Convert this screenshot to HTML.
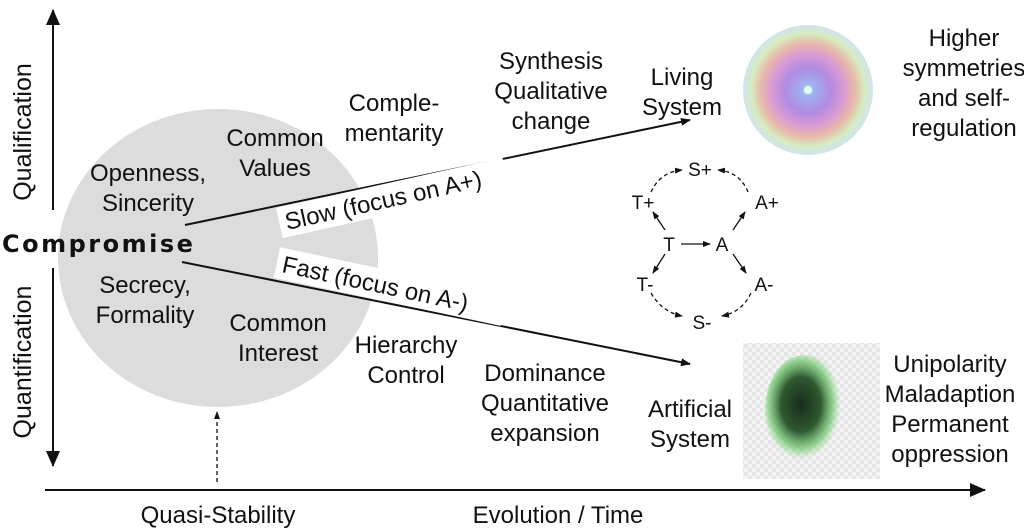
<!DOCTYPE html>
<html><head><meta charset="utf-8"><style>
html,body{margin:0;padding:0;background:#fff;}
svg{display:block;}
text{font-family:"Liberation Sans",sans-serif;fill:#111;}
</style></head><body>
<svg width="1024" height="530" viewBox="0 0 1024 530" xmlns="http://www.w3.org/2000/svg">
<defs>
<marker id="ah" markerWidth="10" markerHeight="8" refX="9" refY="4" orient="auto" markerUnits="userSpaceOnUse"><path d="M0,0 L10,4 L0,8 z" fill="#111"/></marker>
<marker id="sh" markerWidth="8" markerHeight="6" refX="7" refY="3" orient="auto" markerUnits="userSpaceOnUse"><path d="M0,0 L8,3 L0,6 z" fill="#111"/></marker>
<marker id="big" markerWidth="16" markerHeight="14" refX="15" refY="7" orient="auto" markerUnits="userSpaceOnUse"><path d="M0,0 L16,7 L0,14 z" fill="#111"/></marker>
<radialGradient id="rg" cx="0.5" cy="0.5" r="0.5">
<stop offset="0" stop-color="#bff5e0"/><stop offset="0.1" stop-color="#9fb0f0"/>
<stop offset="0.35" stop-color="#b08be0"/><stop offset="0.55" stop-color="#d99ad6"/>
<stop offset="0.72" stop-color="#e8b8a8"/><stop offset="0.87" stop-color="#d6ecc0"/>
<stop offset="1" stop-color="#d0e4f0"/></radialGradient>
<pattern id="chk" width="8" height="8" patternUnits="userSpaceOnUse"><rect width="8" height="8" fill="#f4f4f4"/><rect width="4" height="4" fill="#e6e6e6"/><rect x="4" y="4" width="4" height="4" fill="#e6e6e6"/></pattern>
<radialGradient id="bl" cx="0.45" cy="0.45" r="0.5"><stop offset="0" stop-color="#1a2a1a"/><stop offset="0.5" stop-color="#2e5a30"/><stop offset="0.8" stop-color="#6bc46a" stop-opacity="0.7"/><stop offset="1" stop-color="#8fe08a" stop-opacity="0"/></radialGradient>
</defs>

<ellipse cx="218" cy="258" rx="160" ry="149" fill="#dcdcdc"/>

<line x1="53" y1="210" x2="53" y2="10" stroke="#111" stroke-width="2" marker-end="url(#big)"/>
<line x1="53" y1="268" x2="53" y2="466" stroke="#111" stroke-width="2" marker-end="url(#big)"/>
<line x1="45" y1="490" x2="985" y2="490" stroke="#111" stroke-width="2" marker-end="url(#big)"/>
<line x1="217" y1="482" x2="217" y2="412" stroke="#111" stroke-width="1.3" stroke-dasharray="4,3" marker-end="url(#sh)"/>

<text transform="translate(31,132) rotate(-90)" font-size="25" text-anchor="middle">Qualification</text>
<text transform="translate(31,362) rotate(-90)" font-size="25" text-anchor="middle">Quantification</text>

<text x="2" y="252" font-size="24" font-weight="bold" letter-spacing="2.5" font-family="DejaVu Sans, sans-serif" style="font-family:'DejaVu Sans',sans-serif">Compromise</text>

<line x1="185" y1="225" x2="690" y2="120" stroke="#111" stroke-width="2" marker-end="url(#ah)"/>
<line x1="182" y1="262" x2="690" y2="364" stroke="#111" stroke-width="2" marker-end="url(#ah)"/>
<g transform="translate(287,230) rotate(-12.5)"><rect x="-6" y="-24" width="232" height="31" fill="#fff"/><text x="0" y="0" font-size="24">Slow (focus on A+)</text></g>
<g transform="translate(281,272) rotate(12)"><rect x="-6" y="-24" width="232" height="31" fill="#fff"/><text x="0" y="0" font-size="24">Fast (focus on A-)</text></g>

<g font-size="24" text-anchor="middle">
<text x="148" y="181">Openness,</text><text x="148" y="211">Sincerity</text>
<text x="275" y="146">Common</text><text x="275" y="176">Values</text>
<text x="394" y="111">Comple-</text><text x="394" y="141">mentarity</text>
<text x="551" y="69">Synthesis</text><text x="551" y="99">Qualitative</text><text x="551" y="129">change</text>
<text x="682" y="85">Living</text><text x="682" y="115">System</text>
<text x="964" y="46">Higher</text><text x="964" y="76">symmetries</text><text x="964" y="106">and self-</text><text x="964" y="136">regulation</text>
<text x="145" y="293">Secrecy,</text><text x="145" y="323">Formality</text>
<text x="278" y="331">Common</text><text x="278" y="361">Interest</text>
<text x="406" y="353">Hierarchy</text><text x="406" y="383">Control</text>
<text x="545" y="381">Dominance</text><text x="545" y="411">Quantitative</text><text x="545" y="441">expansion</text>
<text x="690" y="417">Artificial</text><text x="690" y="447">System</text>
<text x="950" y="372">Unipolarity</text><text x="950" y="402">Maladaption</text><text x="950" y="432">Permanent</text><text x="950" y="462">oppression</text>
<text x="218" y="523">Quasi-Stability</text>
<text x="558" y="523">Evolution / Time</text>
</g>

<circle cx="808" cy="90" r="65" fill="url(#rg)"/>
<circle cx="808" cy="90" r="4" fill="#e0fff0"/>
<rect x="743" y="343" width="137" height="136" fill="url(#chk)"/>
<ellipse cx="805" cy="410" rx="40" ry="55" fill="url(#bl)"/>

<g font-size="19" text-anchor="middle">
<text x="700" y="176">S+</text>
<text x="643" y="209">T+</text><text x="767" y="209">A+</text>
<text x="669" y="251">T</text><text x="722" y="251">A</text>
<text x="645" y="291">T-</text><text x="764" y="291">A-</text>
<text x="702" y="329">S-</text>
</g>
<g stroke="#111" stroke-width="1.3" fill="none">
<line x1="681" y1="244" x2="710" y2="244" marker-end="url(#sh)"/>
<line x1="665" y1="230" x2="653" y2="212" marker-end="url(#sh)"/>
<line x1="733" y1="230" x2="745" y2="212" marker-end="url(#sh)"/>
<line x1="665" y1="254" x2="653" y2="273" marker-end="url(#sh)"/>
<line x1="733" y1="254" x2="746" y2="273" marker-end="url(#sh)"/>
<path d="M651,192 Q660,172 682,170" stroke-dasharray="4,3" marker-end="url(#sh)"/>
<path d="M748,192 Q740,172 718,170" stroke-dasharray="4,3" marker-end="url(#sh)"/>
<path d="M651,293 Q662,312 682,316" stroke-dasharray="4,3" marker-end="url(#sh)"/>
<path d="M751,293 Q742,312 722,316" stroke-dasharray="4,3" marker-end="url(#sh)"/>
</g>
</svg>
</body></html>
